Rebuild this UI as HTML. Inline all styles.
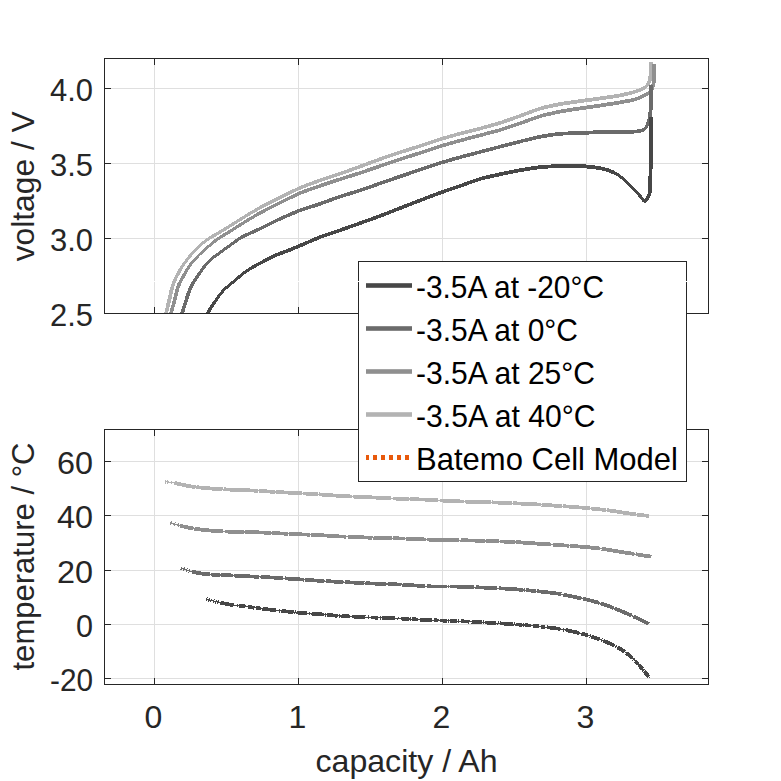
<!DOCTYPE html><html><head><meta charset="utf-8"><title>Discharge voltage and temperature</title><style>html,body{margin:0;padding:0;background:#fff;}svg{display:block;}</style></head><body>
<svg width="781" height="781" viewBox="0 0 781 781" font-family="'Liberation Sans', Arial, sans-serif">
<rect width="781" height="781" fill="#fff"/>
<defs><clipPath id="ct"><rect x="104" y="58" width="605" height="256"/></clipPath><clipPath id="cb"><rect x="104" y="429" width="605" height="256"/></clipPath></defs>
<g stroke="#dfdfdf" stroke-width="1" shape-rendering="crispEdges">
<line x1="154.5" y1="58" x2="154.5" y2="314"/>
<line x1="298.5" y1="58" x2="298.5" y2="314"/>
<line x1="442.5" y1="58" x2="442.5" y2="314"/>
<line x1="586.5" y1="58" x2="586.5" y2="314"/>
<line x1="104" y1="88.5" x2="709" y2="88.5"/>
<line x1="104" y1="163.5" x2="709" y2="163.5"/>
<line x1="104" y1="238.5" x2="709" y2="238.5"/>
</g>
<rect x="105" y="281" width="603" height="1" fill="#fff"/>
<g clip-path="url(#ct)" fill="none" stroke-width="3.8" stroke-linejoin="round" stroke-linecap="butt" shape-rendering="crispEdges">
<path stroke="#b3b3b3" stroke-width="3.60" d="M166.00,313.80 L166.47,311.85 L166.93,309.91 L167.39,307.96 L167.86,306.02 L168.32,304.07 L168.77,302.13"/>
<path stroke="#b3b3b3" stroke-width="3.80" d="M167.86,306.02 L168.32,304.07 L168.77,302.13 L169.22,300.18 L169.66,298.23 L170.09,296.27 L170.52,294.32 L170.96,292.37 L171.40,290.42 L171.89,288.49"/>
<path stroke="#b3b3b3" stroke-width="3.60" d="M170.96,292.37 L171.40,290.42 L171.89,288.49 L172.43,286.57 L173.05,284.68 L173.74,282.81 L174.50,280.97 L175.30,279.14"/>
<path stroke="#b3b3b3" stroke-width="3.40" d="M173.74,282.81 L174.50,280.97 L175.30,279.14 L176.15,277.33 L177.04,275.55 L177.97,273.78 L178.93,272.03 L179.92,270.29 L180.93,268.57"/>
<path stroke="#b3b3b3" stroke-width="3.20" d="M178.93,272.03 L179.92,270.29 L180.93,268.57 L181.96,266.86 L183.04,265.18 L184.16,263.54 L185.33,261.92"/>
<path stroke="#b3b3b3" stroke-width="3.00" d="M183.04,265.18 L184.16,263.54 L185.33,261.92 L186.54,260.33 L187.77,258.75 L189.02,257.19 L190.29,255.65 L191.58,254.12 L192.89,252.61"/>
<path stroke="#b3b3b3" stroke-width="2.80" d="M190.29,255.65 L191.58,254.12 L192.89,252.61 L194.22,251.13 L195.59,249.67 L196.99,248.25 L198.43,246.87 L199.90,245.52 L201.41,244.20 L202.94,242.92"/>
<path stroke="#b3b3b3" stroke-width="3.00" d="M199.90,245.52 L201.41,244.20 L202.94,242.92 L204.50,241.67 L206.09,240.47 L207.71,239.31 L209.38,238.22"/>
<path stroke="#b3b3b3" stroke-width="3.20" d="M206.09,240.47 L207.71,239.31 L209.38,238.22 L211.07,237.17 L212.80,236.18 L214.55,235.21"/>
<path stroke="#b3b3b3" stroke-width="3.40" d="M211.07,237.17 L212.80,236.18 L214.55,235.21 L216.29,234.23 L218.03,233.25 L219.75,232.23"/>
<path stroke="#b3b3b3" stroke-width="3.20" d="M216.29,234.23 L218.03,233.25 L219.75,232.23 L221.47,231.20 L223.17,230.16 L224.88,229.11 L226.58,228.06 L228.28,227.00 L229.97,225.95 L231.67,224.88 L233.36,223.81 L235.05,222.74 L236.74,221.67 L238.42,220.60 L240.11,219.53 L241.80,218.46 L243.50,217.40 L245.20,216.35 L246.90,215.30 L248.62,214.27 L250.34,213.25 L252.06,212.23 L253.78,211.22 L255.51,210.21 L257.24,209.21 L258.98,208.22"/>
<path stroke="#b3b3b3" stroke-width="3.40" d="M255.51,210.21 L257.24,209.21 L258.98,208.22 L260.73,207.27 L262.50,206.34 L264.29,205.44 L266.08,204.55 L267.87,203.67 L269.67,202.79 L271.46,201.90 L273.25,201.01 L275.04,200.11 L276.82,199.20 L278.60,198.28 L280.38,197.37 L282.16,196.47 L283.95,195.58 L285.74,194.69 L287.54,193.81 L289.33,192.93 L291.13,192.05 L292.92,191.17 L294.72,190.30 L296.53,189.44 L298.34,188.60 L300.17,187.80 L302.02,187.03"/>
<path stroke="#b3b3b3" stroke-width="3.60" d="M298.34,188.60 L300.17,187.80 L302.02,187.03 L303.88,186.30 L305.74,185.59 L307.62,184.89 L309.49,184.19 L311.37,183.50 L313.24,182.80 L315.12,182.11 L317.00,181.43 L318.88,180.76 L320.77,180.10 L322.67,179.46 L324.56,178.83 L326.46,178.20 L328.36,177.58 L330.27,176.96 L332.17,176.34 L334.07,175.72 L335.97,175.10 L337.87,174.47 L339.76,173.83 L341.65,173.18 L343.54,172.51 L345.42,171.84 L347.31,171.17 L349.19,170.49 L351.07,169.81 L352.95,169.14 L354.83,168.46 L356.71,167.78 L358.59,167.09 L360.47,166.40 L362.35,165.71 L364.22,165.01 L366.09,164.31 L367.97,163.61 L369.84,162.91 L371.71,162.21 L373.59,161.51 L375.46,160.81 L377.34,160.12 L379.22,159.44 L381.10,158.77 L382.99,158.12 L384.88,157.47 L386.78,156.83 L388.67,156.19 L390.57,155.56 L392.47,154.92 L394.36,154.29 L396.26,153.66 L398.16,153.03 L400.06,152.40 L401.96,151.78 L403.86,151.17 L405.77,150.56 L407.67,149.95 L409.58,149.34 L411.48,148.73 L413.39,148.12 L415.29,147.50 L417.19,146.89 L419.10,146.27 L421.00,145.65 L422.90,145.02 L424.79,144.39 L426.69,143.76 L428.59,143.12 L430.48,142.49 L432.38,141.85 L434.28,141.22 L436.18,140.59 L438.08,139.98 L439.99,139.37 L441.90,138.78 L443.81,138.21 L445.73,137.64 L447.65,137.08 L449.57,136.53 L451.49,135.97 L453.41,135.41 L455.34,134.86 L457.26,134.32 L459.19,133.79 L461.12,133.27 L463.06,132.77 L464.99,132.28 L466.94,131.80 L468.88,131.33 L470.82,130.85 L472.76,130.37 L474.70,129.89 L476.64,129.41 L478.58,128.91 L480.52,128.41 L482.45,127.89 L484.38,127.37 L486.31,126.83 L488.23,126.29 L490.16,125.76 L492.08,125.21 L494.01,124.67 L495.93,124.12 L497.85,123.55 L499.76,122.97 L501.66,122.36 L503.56,121.73 L505.45,121.08 L507.34,120.43 L509.23,119.77 L511.12,119.11 L513.01,118.45 L514.89,117.78 L516.78,117.12 L518.66,116.44 L520.54,115.76 L522.42,115.06 L524.29,114.36 L526.16,113.66 L528.03,112.95 L529.90,112.24 L531.77,111.53 L533.64,110.83 L535.52,110.14 L537.40,109.48 L539.30,108.86 L541.21,108.29 L543.14,107.78 L545.08,107.31 L547.03,106.86"/>
<path stroke="#b3b3b3" stroke-width="3.80" d="M543.14,107.78 L545.08,107.31 L547.03,106.86 L548.98,106.43 L550.93,106.00 L552.89,105.57 L554.84,105.15 L556.80,104.74 L558.76,104.35 L560.73,103.99 L562.70,103.65 L564.67,103.34 L566.65,103.04 L568.63,102.75 L570.61,102.46 L572.58,102.18 L574.56,101.89 L576.54,101.61 L578.52,101.33 L580.51,101.05 L582.49,100.79 L584.47,100.52 L586.45,100.26 L588.44,100.00 L590.42,99.75 L592.40,99.49 L594.39,99.23 L596.37,98.97 L598.35,98.70 L600.33,98.43 L602.31,98.15 L604.29,97.87 L606.27,97.59 L608.25,97.30 L610.23,97.02 L612.21,96.73 L614.19,96.43 L616.16,96.12 L618.13,95.78 L620.09,95.41 L622.05,95.00 L624.00,94.55 L625.94,94.07"/>
<path stroke="#b3b3b3" stroke-width="3.60" d="M622.05,95.00 L624.00,94.55 L625.94,94.07 L627.88,93.59 L629.81,93.09 L631.75,92.60 L633.68,92.08 L635.60,91.54 L637.49,90.94 L639.32,90.26 L641.07,89.50"/>
<path stroke="#b3b3b3" stroke-width="3.40" d="M637.49,90.94 L639.32,90.26 L641.07,89.50 L642.68,88.70 L644.08,87.93 L645.21,87.27"/>
<path stroke="#b3b3b3" stroke-width="3.20" d="M642.68,88.70 L644.08,87.93 L645.21,87.27 L645.67,87.00 L645.94,86.66"/>
<path stroke="#b3b3b3" stroke-width="3.00" d="M645.21,87.27 L645.67,87.00 L645.94,86.66 L646.31,86.21 L646.76,85.67 L647.25,85.06 L647.75,84.42 L648.23,83.77 L648.66,83.12"/>
<path stroke="#b3b3b3" stroke-width="3.20" d="M647.75,84.42 L648.23,83.77 L648.66,83.12 L649.00,82.50"/>
<path stroke="#b3b3b3" stroke-width="3.40" d="M648.23,83.77 L648.66,83.12 L649.00,82.50 L649.27,81.92 L649.49,81.34"/>
<path stroke="#b3b3b3" stroke-width="3.60" d="M649.00,82.50 L649.27,81.92 L649.49,81.34 L649.67,80.77 L649.83,80.19 L649.96,79.58"/>
<path stroke="#b3b3b3" stroke-width="3.80" d="M649.67,80.77 L649.83,80.19 L649.96,79.58 L650.08,78.94 L650.19,78.25 L650.30,77.50 L650.40,76.69 L650.49,75.81 L650.56,74.89 L650.62,73.94 L650.68,72.96 L650.72,71.97 L650.76,70.98 L650.80,70.00 L650.83,68.97 L650.86,67.85 L650.87,66.69 L650.88,65.53 L650.89,64.44 L650.89,63.45 L650.90,62.62 L650.90,62.00"/>
<path stroke="#8f8f8f" stroke-width="3.60" d="M170.90,313.80 L171.42,311.87 L171.94,309.94 L172.45,308.00 L172.97,306.07 L173.48,304.14 L173.99,302.21 L174.49,300.27 L174.98,298.33 L175.47,296.39 L175.95,294.45 L176.44,292.51 L176.94,290.58 L177.49,288.67 L178.11,286.78 L178.82,284.93 L179.63,283.12"/>
<path stroke="#8f8f8f" stroke-width="3.40" d="M178.11,286.78 L178.82,284.93 L179.63,283.12 L180.51,281.33 L181.44,279.57 L182.40,277.82 L183.38,276.07 L184.38,274.34"/>
<path stroke="#8f8f8f" stroke-width="3.20" d="M182.40,277.82 L183.38,276.07 L184.38,274.34 L185.38,272.61 L186.40,270.89 L187.44,269.18 L188.51,267.50 L189.62,265.85 L190.79,264.24"/>
<path stroke="#8f8f8f" stroke-width="3.00" d="M188.51,267.50 L189.62,265.85 L190.79,264.24 L192.02,262.67 L193.30,261.14 L194.62,259.64"/>
<path stroke="#8f8f8f" stroke-width="2.80" d="M192.02,262.67 L193.30,261.14 L194.62,259.64 L195.97,258.17 L197.34,256.71 L198.73,255.28 L200.15,253.87"/>
<path stroke="#8f8f8f" stroke-width="2.60" d="M197.34,256.71 L198.73,255.28 L200.15,253.87 L201.60,252.50"/>
<path stroke="#8f8f8f" stroke-width="2.80" d="M198.73,255.28 L200.15,253.87 L201.60,252.50 L203.08,251.15 L204.58,249.84 L206.10,248.53 L207.62,247.24 L209.15,245.94 L210.67,244.65 L212.20,243.36"/>
<path stroke="#8f8f8f" stroke-width="3.00" d="M209.15,245.94 L210.67,244.65 L212.20,243.36 L213.73,242.08 L215.29,240.83 L216.87,239.62 L218.50,238.48"/>
<path stroke="#8f8f8f" stroke-width="3.20" d="M215.29,240.83 L216.87,239.62 L218.50,238.48 L220.17,237.39 L221.87,236.34 L223.58,235.32 L225.30,234.30 L227.02,233.28 L228.73,232.23 L230.42,231.18 L232.11,230.10 L233.78,229.00 L235.45,227.91 L237.12,226.81 L238.80,225.72 L240.49,224.65 L242.18,223.59 L243.88,222.53 L245.59,221.49 L247.30,220.46 L249.02,219.43 L250.74,218.41 L252.46,217.39 L254.18,216.38 L255.91,215.37 L257.64,214.36 L259.38,213.38"/>
<path stroke="#8f8f8f" stroke-width="3.40" d="M255.91,215.37 L257.64,214.36 L259.38,213.38 L261.13,212.41 L262.89,211.46 L264.66,210.53 L266.43,209.61 L268.21,208.69 L269.99,207.78 L271.77,206.87 L273.55,205.97 L275.34,205.08 L277.14,204.19 L278.93,203.31 L280.73,202.43 L282.52,201.54 L284.32,200.66 L286.11,199.78 L287.90,198.89 L289.69,198.00 L291.49,197.12 L293.28,196.23 L295.08,195.36 L296.88,194.50 L298.70,193.67 L300.54,192.89 L302.39,192.15"/>
<path stroke="#8f8f8f" stroke-width="3.60" d="M298.70,193.67 L300.54,192.89 L302.39,192.15 L304.26,191.44 L306.14,190.76 L308.02,190.09 L309.91,189.43 L311.80,188.77 L313.69,188.11 L315.58,187.45 L317.46,186.80 L319.36,186.14 L321.25,185.50 L323.14,184.85 L325.04,184.22 L326.93,183.58 L328.83,182.94 L330.73,182.31 L332.62,181.67 L334.52,181.04 L336.42,180.41 L338.32,179.78 L340.22,179.17 L342.12,178.56 L344.03,177.96 L345.94,177.36 L347.85,176.77 L349.76,176.17 L351.67,175.58 L353.58,174.99 L355.49,174.39 L357.40,173.79 L359.30,173.18 L361.20,172.55 L363.10,171.92 L364.99,171.27 L366.88,170.62 L368.77,169.97 L370.66,169.32 L372.55,168.67 L374.44,168.02 L376.33,167.36 L378.23,166.71 L380.12,166.06 L382.01,165.41 L383.90,164.76 L385.79,164.10 L387.68,163.45 L389.57,162.80 L391.46,162.15 L393.35,161.50 L395.24,160.85 L397.14,160.20 L399.03,159.57 L400.93,158.95 L402.84,158.34 L404.75,157.74 L406.65,157.14 L408.56,156.55 L410.47,155.95 L412.38,155.36 L414.29,154.77 L416.20,154.17 L418.11,153.57 L420.01,152.96 L421.92,152.34 L423.82,151.71 L425.71,151.08 L427.61,150.45 L429.51,149.81 L431.40,149.18 L433.30,148.55 L435.20,147.92 L437.10,147.30 L439.00,146.69 L440.91,146.09 L442.83,145.52 L444.75,144.96 L446.67,144.40 L448.59,143.85 L450.52,143.30 L452.44,142.76 L454.36,142.21 L456.29,141.66 L458.21,141.13 L460.14,140.59 L462.07,140.07 L464.00,139.55 L465.93,139.03 L467.87,138.52 L469.80,138.00 L471.73,137.49 L473.67,136.98 L475.60,136.47 L477.53,135.96 L479.47,135.45 L481.40,134.94 L483.34,134.43 L485.27,133.93 L487.21,133.43 L489.14,132.92 L491.08,132.42 L493.01,131.91 L494.95,131.40 L496.88,130.88 L498.80,130.34 L500.72,129.77 L502.63,129.18 L504.53,128.57 L506.43,127.94 L508.33,127.31 L510.22,126.67 L512.12,126.04 L514.02,125.40 L515.91,124.76 L517.80,124.12 L519.69,123.46 L521.58,122.80 L523.46,122.12 L525.34,121.45 L527.22,120.76 L529.10,120.08 L530.98,119.39 L532.86,118.71 L534.74,118.04 L536.63,117.38 L538.53,116.76 L540.44,116.18 L542.36,115.64 L544.30,115.15 L546.24,114.68 L548.19,114.22 L550.14,113.77"/>
<path stroke="#8f8f8f" stroke-width="3.80" d="M546.24,114.68 L548.19,114.22 L550.14,113.77 L552.08,113.32 L554.03,112.88 L555.99,112.45 L557.94,112.03 L559.90,111.64 L561.87,111.27 L563.84,110.93 L565.81,110.61 L567.79,110.30 L569.76,109.99 L571.74,109.68 L573.71,109.38 L575.69,109.07 L577.67,108.77 L579.65,108.48 L581.63,108.19 L583.60,107.90 L585.58,107.62 L587.57,107.34 L589.55,107.06 L591.53,106.79 L593.51,106.51 L595.49,106.23 L597.47,105.94 L599.45,105.65 L601.42,105.35 L603.40,105.05 L605.38,104.74 L607.35,104.42 L609.33,104.11 L611.30,103.79 L613.27,103.47 L615.25,103.16 L617.22,102.83 L619.20,102.50 L621.17,102.17 L623.14,101.82 L625.11,101.47 L627.07,101.11 L629.04,100.74 L630.99,100.35 L632.93,99.91 L634.84,99.39"/>
<path stroke="#8f8f8f" stroke-width="3.60" d="M630.99,100.35 L632.93,99.91 L634.84,99.39 L636.70,98.78 L638.49,98.08 L640.17,97.35"/>
<path stroke="#8f8f8f" stroke-width="3.40" d="M636.70,98.78 L638.49,98.08 L640.17,97.35 L641.66,96.65 L642.90,96.04 L643.43,95.78 L643.85,95.55 L644.43,95.24 L645.13,94.88 L645.89,94.47 L646.67,94.04 L647.43,93.60 L648.12,93.18"/>
<path stroke="#8f8f8f" stroke-width="3.20" d="M646.67,94.04 L647.43,93.60 L648.12,93.18 L648.70,92.80 L649.18,92.45"/>
<path stroke="#8f8f8f" stroke-width="3.00" d="M648.12,93.18 L648.70,92.80 L649.18,92.45 L649.60,92.12 L649.99,91.79"/>
<path stroke="#8f8f8f" stroke-width="2.80" d="M649.18,92.45 L649.60,92.12 L649.99,91.79 L650.34,91.46 L650.65,91.13 L650.95,90.78"/>
<path stroke="#8f8f8f" stroke-width="3.00" d="M650.34,91.46 L650.65,91.13 L650.95,90.78 L651.23,90.41 L651.50,90.00"/>
<path stroke="#8f8f8f" stroke-width="3.20" d="M650.95,90.78 L651.23,90.41 L651.50,90.00 L651.75,89.57 L651.98,89.12"/>
<path stroke="#8f8f8f" stroke-width="3.40" d="M651.50,90.00 L651.75,89.57 L651.98,89.12 L652.19,88.65 L652.38,88.16"/>
<path stroke="#8f8f8f" stroke-width="3.60" d="M651.98,89.12 L652.19,88.65 L652.38,88.16 L652.55,87.66 L652.70,87.13 L652.85,86.58 L653.00,86.00 L653.14,85.41"/>
<path stroke="#8f8f8f" stroke-width="3.80" d="M652.85,86.58 L653.00,86.00 L653.14,85.41 L653.26,84.82 L653.37,84.22 L653.47,83.59 L653.56,82.92 L653.64,82.21 L653.72,81.44 L653.80,80.60 L653.87,79.67 L653.94,78.66 L653.99,77.57 L654.04,76.45 L654.09,75.31 L654.13,74.17 L654.17,73.06 L654.20,72.00 L654.23,70.93 L654.25,69.81 L654.26,68.67 L654.27,67.56 L654.28,66.52 L654.29,65.58 L654.29,64.80 L654.30,64.20"/>
<path stroke="#6b6b6b" stroke-width="3.60" d="M182.00,313.80 L182.58,311.89 L183.16,309.97 L183.75,308.06 L184.33,306.15 L184.92,304.24 L185.51,302.33 L186.12,300.42 L186.74,298.52 L187.36,296.62 L188.00,294.72 L188.65,292.83 L189.32,290.95 L190.02,289.09 L190.79,287.26 L191.64,285.47"/>
<path stroke="#6b6b6b" stroke-width="3.40" d="M190.02,289.09 L190.79,287.26 L191.64,285.47 L192.59,283.72 L193.61,282.02"/>
<path stroke="#6b6b6b" stroke-width="3.20" d="M191.64,285.47 L192.59,283.72 L193.61,282.02 L194.69,280.34 L195.80,278.68 L196.93,277.03 L198.07,275.39 L199.22,273.75 L200.38,272.12 L201.53,270.49 L202.68,268.86 L203.85,267.23"/>
<path stroke="#6b6b6b" stroke-width="3.00" d="M201.53,270.49 L202.68,268.86 L203.85,267.23 L205.04,265.63 L206.27,264.07 L207.57,262.57"/>
<path stroke="#6b6b6b" stroke-width="2.80" d="M205.04,265.63 L206.27,264.07 L207.57,262.57 L208.95,261.14 L210.40,259.81 L211.93,258.55"/>
<path stroke="#6b6b6b" stroke-width="3.00" d="M208.95,261.14 L210.40,259.81 L211.93,258.55 L213.52,257.34 L215.12,256.16 L216.74,254.98 L218.34,253.79 L219.95,252.60 L221.55,251.41 L223.17,250.23 L224.79,249.06 L226.42,247.90 L228.04,246.73 L229.67,245.57 L231.29,244.40 L232.90,243.21 L234.50,242.02 L236.11,240.84 L237.74,239.69"/>
<path stroke="#6b6b6b" stroke-width="3.20" d="M234.50,242.02 L236.11,240.84 L237.74,239.69 L239.40,238.60 L241.11,237.58 L242.86,236.64"/>
<path stroke="#6b6b6b" stroke-width="3.40" d="M239.40,238.60 L241.11,237.58 L242.86,236.64 L244.65,235.76 L246.46,234.91 L248.27,234.08 L250.10,233.26 L251.92,232.44 L253.74,231.61 L255.56,230.79 L257.38,229.95 L259.19,229.11 L261.00,228.25 L262.80,227.38 L264.59,226.49 L266.38,225.61 L268.17,224.71 L269.96,223.82 L271.75,222.92 L273.54,222.03 L275.33,221.14 L277.13,220.27 L278.93,219.40 L280.75,218.56 L282.57,217.73 L284.40,216.92 L286.23,216.13 L288.07,215.33 L289.90,214.54 L291.74,213.75 L293.58,212.97 L295.42,212.19"/>
<path stroke="#6b6b6b" stroke-width="3.60" d="M291.74,213.75 L293.58,212.97 L295.42,212.19 L297.27,211.43 L299.13,210.70 L301.00,210.00 L302.89,209.35 L304.78,208.71 L306.69,208.10 L308.59,207.50 L310.50,206.89 L312.41,206.29 L314.31,205.69 L316.22,205.07 L318.12,204.45 L320.01,203.81 L321.90,203.16 L323.78,202.48 L325.66,201.80 L327.54,201.11 L329.42,200.42 L331.29,199.72 L333.17,199.03 L335.05,198.34 L336.93,197.67 L338.81,197.01 L340.71,196.37 L342.61,195.76 L344.52,195.16 L346.43,194.58 L348.35,194.00 L350.26,193.42 L352.18,192.85 L354.09,192.27 L356.00,191.68 L357.91,191.09 L359.82,190.48 L361.71,189.85 L363.61,189.20 L365.50,188.54 L367.38,187.88 L369.27,187.21 L371.15,186.54 L373.04,185.87 L374.92,185.20 L376.81,184.54 L378.69,183.87 L380.58,183.21 L382.47,182.55 L384.36,181.90 L386.25,181.24 L388.14,180.59 L390.03,179.94 L391.92,179.29 L393.81,178.64 L395.70,177.98 L397.59,177.33 L399.49,176.68 L401.38,176.04 L403.27,175.39 L405.16,174.75 L407.06,174.10 L408.95,173.46 L410.84,172.81 L412.74,172.17 L414.63,171.53 L416.53,170.88 L418.42,170.24 L420.31,169.60 L422.21,168.96 L424.11,168.33 L426.00,167.69 L427.90,167.05 L429.79,166.42 L431.69,165.78 L433.59,165.15 L435.49,164.52 L437.39,163.90 L439.29,163.29 L441.20,162.70 L443.11,162.12 L445.03,161.55 L446.95,160.99 L448.87,160.43 L450.79,159.87 L452.71,159.31 L454.64,158.76 L456.56,158.21 L458.48,157.67 L460.41,157.13 L462.34,156.61 L464.27,156.10 L466.21,155.59 L468.14,155.08 L470.08,154.58 L472.01,154.08 L473.95,153.57 L475.88,153.07 L477.82,152.56 L479.75,152.06 L481.69,151.55 L483.62,151.04 L485.56,150.53 L487.49,150.02 L489.42,149.50 L491.36,148.99 L493.29,148.48 L495.22,147.97 L497.16,147.46 L499.09,146.95 L501.02,146.44 L502.96,145.93 L504.90,145.43 L506.83,144.92 L508.77,144.42 L510.70,143.92 L512.64,143.41 L514.57,142.91 L516.51,142.41 L518.45,141.92 L520.39,141.43 L522.33,140.94 L524.27,140.46 L526.21,139.98 L528.15,139.50 L530.09,139.03 L532.04,138.55 L533.98,138.08 L535.93,137.63 L537.88,137.19"/>
<path stroke="#6b6b6b" stroke-width="3.80" d="M533.98,138.08 L535.93,137.63 L537.88,137.19 L539.83,136.78 L541.80,136.41 L543.77,136.07 L545.74,135.75 L547.72,135.45 L549.69,135.15 L551.67,134.85 L553.65,134.56 L555.63,134.29 L557.61,134.04 L559.60,133.83 L561.59,133.68 L563.58,133.56 L565.58,133.48 L567.58,133.42 L569.57,133.36 L571.57,133.31 L573.57,133.26 L575.57,133.20 L577.57,133.14 L579.57,133.07 L581.57,132.99 L583.57,132.89 L585.56,132.79 L587.56,132.68 L589.56,132.57 L591.55,132.47 L593.55,132.36 L595.55,132.26 L597.55,132.17 L599.54,132.10 L601.54,132.05 L603.54,132.02 L605.54,132.01 L607.54,132.00 L609.54,132.00 L611.54,132.00 L613.54,132.00 L615.54,131.99 L617.54,131.99 L619.54,131.97 L621.54,131.94 L623.54,131.91 L625.54,131.87 L627.54,131.83 L629.54,131.78 L631.53,131.73 L633.50,131.65 L635.42,131.55 L637.20,131.40 L638.75,131.23 L639.97,131.06 L640.44,130.99 L640.74,130.87"/>
<path stroke="#6b6b6b" stroke-width="3.60" d="M639.97,131.06 L640.44,130.99 L640.74,130.87 L641.15,130.72 L641.63,130.55 L642.16,130.35 L642.71,130.13 L643.25,129.87"/>
<path stroke="#6b6b6b" stroke-width="3.40" d="M642.16,130.35 L642.71,130.13 L643.25,129.87 L643.76,129.60 L644.20,129.30"/>
<path stroke="#6b6b6b" stroke-width="3.20" d="M643.25,129.87 L643.76,129.60 L644.20,129.30 L644.59,128.97"/>
<path stroke="#6b6b6b" stroke-width="2.80" d="M643.76,129.60 L644.20,129.30 L644.59,128.97 L644.95,128.62 L645.29,128.23 L645.62,127.83"/>
<path stroke="#6b6b6b" stroke-width="3.00" d="M644.95,128.62 L645.29,128.23 L645.62,127.83 L645.93,127.40 L646.23,126.95"/>
<path stroke="#6b6b6b" stroke-width="3.20" d="M645.62,127.83 L645.93,127.40 L646.23,126.95 L646.52,126.48 L646.80,126.00 L647.07,125.50"/>
<path stroke="#6b6b6b" stroke-width="3.40" d="M646.52,126.48 L646.80,126.00 L647.07,125.50 L647.32,124.97 L647.56,124.42 L647.78,123.86"/>
<path stroke="#6b6b6b" stroke-width="3.60" d="M647.32,124.97 L647.56,124.42 L647.78,123.86 L648.00,123.28 L648.20,122.69 L648.40,122.09 L648.60,121.50 L648.79,120.91 L648.97,120.32 L649.15,119.73 L649.32,119.12 L649.48,118.51 L649.63,117.87 L649.77,117.20"/>
<path stroke="#6b6b6b" stroke-width="3.80" d="M649.48,118.51 L649.63,117.87 L649.77,117.20 L649.90,116.50 L650.02,115.78 L650.13,115.06 L650.22,114.33 L650.31,113.56 L650.39,112.76 L650.47,111.91 L650.54,110.99 L650.60,110.00 L650.66,108.95 L650.71,107.87 L650.75,106.74 L650.79,105.55 L650.82,104.29 L650.85,102.95 L650.87,101.53 L650.90,100.00 L650.92,98.24 L650.94,96.19 L650.96,93.98 L650.97,91.73 L650.98,89.55 L650.99,87.57 L650.99,85.92 L651.00,84.70"/>
<path stroke="#474747" stroke-width="3.40" d="M207.75,313.82 L208.56,312.01 L209.44,310.22 L210.40,308.49 L211.43,306.79"/>
<path stroke="#474747" stroke-width="3.20" d="M209.44,310.22 L210.40,308.49 L211.43,306.79 L212.53,305.13 L213.66,303.48 L214.81,301.85 L215.97,300.21 L217.13,298.58"/>
<path stroke="#474747" stroke-width="3.00" d="M214.81,301.85 L215.97,300.21 L217.13,298.58 L218.29,296.96 L219.47,295.35 L220.68,293.76 L221.93,292.21 L223.25,290.72"/>
<path stroke="#474747" stroke-width="2.80" d="M220.68,293.76 L221.93,292.21 L223.25,290.72 L224.63,289.29 L226.07,287.92 L227.57,286.61 L229.11,285.33"/>
<path stroke="#474747" stroke-width="3.00" d="M226.07,287.92 L227.57,286.61 L229.11,285.33 L230.66,284.07 L232.21,282.81 L233.75,281.54 L235.28,280.25"/>
<path stroke="#474747" stroke-width="2.80" d="M232.21,282.81 L233.75,281.54 L235.28,280.25 L236.78,278.94 L238.28,277.61 L239.79,276.30 L241.31,275.02"/>
<path stroke="#474747" stroke-width="3.00" d="M238.28,277.61 L239.79,276.30 L241.31,275.02 L242.87,273.77 L244.47,272.57 L246.09,271.40 L247.74,270.28"/>
<path stroke="#474747" stroke-width="3.20" d="M244.47,272.57 L246.09,271.40 L247.74,270.28 L249.41,269.19 L251.11,268.14 L252.83,267.12 L254.57,266.14"/>
<path stroke="#474747" stroke-width="3.40" d="M251.11,268.14 L252.83,267.12 L254.57,266.14 L256.32,265.17 L258.08,264.23 L259.85,263.30 L261.63,262.38 L263.40,261.45 L265.17,260.52 L266.93,259.58 L268.71,258.65 L270.48,257.74 L272.28,256.86 L274.08,256.01 L275.91,255.20 L277.75,254.43"/>
<path stroke="#474747" stroke-width="3.60" d="M274.08,256.01 L275.91,255.20 L277.75,254.43 L279.61,253.70 L281.49,253.02 L283.37,252.34 L285.24,251.66 L287.11,250.96 L288.97,250.23 L290.83,249.48 L292.68,248.72 L294.53,247.96 L296.37,247.19 L298.22,246.42 L300.06,245.64 L301.90,244.86"/>
<path stroke="#474747" stroke-width="3.40" d="M298.22,246.42 L300.06,245.64 L301.90,244.86 L303.74,244.07 L305.57,243.27 L307.41,242.48 L309.24,241.68 L311.08,240.88 L312.91,240.09 L314.75,239.30 L316.59,238.52"/>
<path stroke="#474747" stroke-width="3.60" d="M312.91,240.09 L314.75,239.30 L316.59,238.52 L318.44,237.76 L320.30,237.03 L322.17,236.34 L324.06,235.67 L325.95,235.02 L327.84,234.38 L329.74,233.74 L331.63,233.10 L333.53,232.47 L335.42,231.83 L337.32,231.19 L339.21,230.54 L341.10,229.89 L342.99,229.23 L344.88,228.57 L346.76,227.90 L348.65,227.23 L350.53,226.56 L352.42,225.89 L354.30,225.22 L356.19,224.55 L358.07,223.88 L359.95,223.21 L361.84,222.54 L363.72,221.86 L365.60,221.18 L367.48,220.51 L369.36,219.83 L371.25,219.15 L373.13,218.47 L375.01,217.79 L376.89,217.11 L378.76,216.42 L380.64,215.72 L382.51,215.01 L384.37,214.29 L386.24,213.56 L388.10,212.84 L389.97,212.11 L391.83,211.39 L393.69,210.66 L395.56,209.93 L397.42,209.21 L399.28,208.48 L401.15,207.75 L403.01,207.03 L404.87,206.30 L406.74,205.57 L408.60,204.85 L410.46,204.12 L412.33,203.39 L414.19,202.67 L416.05,201.94 L417.92,201.22 L419.78,200.50 L421.65,199.78 L423.52,199.07 L425.39,198.35 L427.26,197.64 L429.13,196.93 L431.00,196.22 L432.86,195.51 L434.74,194.81 L436.61,194.10 L438.48,193.41 L440.36,192.73 L442.25,192.06 L444.14,191.40 L446.03,190.75 L447.92,190.11 L449.81,189.46 L451.71,188.82 L453.60,188.17 L455.49,187.53 L457.39,186.88 L459.28,186.22 L461.16,185.56 L463.05,184.89 L464.93,184.22 L466.81,183.55 L468.70,182.87 L470.58,182.19 L472.46,181.52 L474.35,180.85 L476.23,180.20 L478.13,179.57 L480.04,178.99 L481.96,178.45 L483.90,177.94 L485.84,177.47 L487.78,177.01 L489.73,176.56"/>
<path stroke="#474747" stroke-width="3.80" d="M485.84,177.47 L487.78,177.01 L489.73,176.56 L491.68,176.11 L493.63,175.67 L495.58,175.22 L497.53,174.79 L499.49,174.36 L501.44,173.94 L503.40,173.53 L505.36,173.13 L507.32,172.74 L509.28,172.34 L511.24,171.95 L513.20,171.56 L515.16,171.18 L517.13,170.80 L519.09,170.43 L521.06,170.08 L523.04,169.75 L525.01,169.43 L526.98,169.12 L528.96,168.81 L530.94,168.51 L532.91,168.20 L534.89,167.91 L536.87,167.63 L538.85,167.38 L540.84,167.16 L542.83,166.98 L544.82,166.83 L546.82,166.70 L548.81,166.57 L550.81,166.45 L552.81,166.33 L554.80,166.22 L556.80,166.12 L558.80,166.03 L560.79,165.96 L562.79,165.92 L564.79,165.89 L566.79,165.87 L568.79,165.86 L570.79,165.85 L572.79,165.84 L574.79,165.85 L576.79,165.87 L578.79,165.92 L580.78,166.02 L582.77,166.15 L584.76,166.33 L586.75,166.52 L588.74,166.72 L590.73,166.93 L592.72,167.14 L594.71,167.37 L596.69,167.62 L598.66,167.92 L600.62,168.27 L602.57,168.69 L604.51,169.16"/>
<path stroke="#474747" stroke-width="3.60" d="M600.62,168.27 L602.57,168.69 L604.51,169.16 L606.43,169.70 L608.32,170.30 L610.17,170.99 L611.97,171.75 L613.67,172.54"/>
<path stroke="#474747" stroke-width="3.40" d="M610.17,170.99 L611.97,171.75 L613.67,172.54 L615.22,173.32 L616.54,174.01 L617.57,174.56 L618.20,175.03"/>
<path stroke="#474747" stroke-width="3.00" d="M616.54,174.01 L617.57,174.56 L618.20,175.03 L619.03,175.66 L620.03,176.40 L621.14,177.23 L622.30,178.11 L623.46,179.03 L624.58,179.93 L625.60,180.80"/>
<path stroke="#474747" stroke-width="2.80" d="M623.46,179.03 L624.58,179.93 L625.60,180.80 L626.55,181.66 L627.48,182.54 L628.41,183.45 L629.32,184.37"/>
<path stroke="#474747" stroke-width="2.60" d="M627.48,182.54 L628.41,183.45 L629.32,184.37 L630.22,185.29"/>
<path stroke="#474747" stroke-width="2.80" d="M628.41,183.45 L629.32,184.37 L630.22,185.29 L631.10,186.21 L631.96,187.12 L632.80,188.00 L633.62,188.87 L634.41,189.72 L635.19,190.58 L635.94,191.42 L636.69,192.25 L637.43,193.08 L638.16,193.89 L638.90,194.70 L639.65,195.56 L640.40,196.51"/>
<path stroke="#474747" stroke-width="3.00" d="M638.90,194.70 L639.65,195.56 L640.40,196.51 L641.16,197.48 L641.91,198.42 L642.63,199.29 L643.33,200.01"/>
<path stroke="#474747" stroke-width="2.80" d="M641.91,198.42 L642.63,199.29 L643.33,200.01 L643.99,200.53"/>
<path stroke="#474747" stroke-width="3.00" d="M642.63,199.29 L643.33,200.01 L643.99,200.53 L644.60,200.80"/>
<path stroke="#474747" stroke-width="3.40" d="M643.33,200.01 L643.99,200.53 L644.60,200.80 L645.16,200.79"/>
<path stroke="#474747" stroke-width="3.80" d="M643.99,200.53 L644.60,200.80 L645.16,200.79 L645.69,200.54"/>
<path stroke="#474747" stroke-width="3.40" d="M644.60,200.80 L645.16,200.79 L645.69,200.54 L646.18,200.10"/>
<path stroke="#474747" stroke-width="2.80" d="M645.16,200.79 L645.69,200.54 L646.18,200.10 L646.64,199.51"/>
<path stroke="#474747" stroke-width="3.00" d="M645.69,200.54 L646.18,200.10 L646.64,199.51 L647.07,198.83"/>
<path stroke="#474747" stroke-width="3.20" d="M646.18,200.10 L646.64,199.51 L647.07,198.83 L647.48,198.10"/>
<path stroke="#474747" stroke-width="3.40" d="M646.64,199.51 L647.07,198.83 L647.48,198.10 L647.85,197.38 L648.20,196.70 L648.52,196.09 L648.81,195.51 L649.07,194.92 L649.30,194.29"/>
<path stroke="#474747" stroke-width="3.60" d="M648.81,195.51 L649.07,194.92 L649.30,194.29 L649.51,193.58 L649.69,192.76"/>
<path stroke="#474747" stroke-width="3.80" d="M649.30,194.29 L649.51,193.58 L649.69,192.76 L649.85,191.77 L650.00,190.60 L650.12,189.24 L650.20,187.73 L650.25,186.08 L650.28,184.30 L650.30,182.41 L650.33,180.42 L650.35,178.35 L650.40,176.20 L650.46,174.00 L650.53,171.74 L650.60,169.41 L650.67,166.97 L650.74,164.40 L650.80,161.69 L650.86,158.79 L650.90,155.70 L650.93,152.20 L650.96,148.22 L650.97,143.96 L650.98,139.60 L650.99,135.33 L650.99,131.35 L651.00,127.84 L651.00,125.00 L651.00,122.82 L651.01,121.11 L651.01,119.81 L651.01,118.83 L651.00,118.09 L651.00,117.51 L651.00,117.00 L651.00,116.50"/>
</g>
<g stroke="#262626" stroke-width="1" shape-rendering="crispEdges" fill="none">
<rect x="104.5" y="58.5" width="604" height="255"/>
<line x1="154.5" y1="58" x2="154.5" y2="65"/>
<line x1="154.5" y1="314" x2="154.5" y2="307"/>
<line x1="298.5" y1="58" x2="298.5" y2="65"/>
<line x1="298.5" y1="314" x2="298.5" y2="307"/>
<line x1="442.5" y1="58" x2="442.5" y2="65"/>
<line x1="442.5" y1="314" x2="442.5" y2="307"/>
<line x1="586.5" y1="58" x2="586.5" y2="65"/>
<line x1="586.5" y1="314" x2="586.5" y2="307"/>
<line x1="104" y1="88.5" x2="111" y2="88.5"/>
<line x1="709" y1="88.5" x2="702" y2="88.5"/>
<line x1="104" y1="163.5" x2="111" y2="163.5"/>
<line x1="709" y1="163.5" x2="702" y2="163.5"/>
<line x1="104" y1="238.5" x2="111" y2="238.5"/>
<line x1="709" y1="238.5" x2="702" y2="238.5"/>
</g>
<g fill="#262626" font-size="32" text-anchor="end">
<text x="93" y="101" textLength="43" lengthAdjust="spacingAndGlyphs">4.0</text>
<text x="93" y="176" textLength="43" lengthAdjust="spacingAndGlyphs">3.5</text>
<text x="93" y="251" textLength="43" lengthAdjust="spacingAndGlyphs">3.0</text>
<text x="93" y="326" textLength="43" lengthAdjust="spacingAndGlyphs">2.5</text>
</g>
<g stroke="#dfdfdf" stroke-width="1" shape-rendering="crispEdges">
<line x1="154.5" y1="429" x2="154.5" y2="685"/>
<line x1="298.5" y1="429" x2="298.5" y2="685"/>
<line x1="442.5" y1="429" x2="442.5" y2="685"/>
<line x1="586.5" y1="429" x2="586.5" y2="685"/>
<line x1="104" y1="461.5" x2="709" y2="461.5"/>
<line x1="104" y1="515.5" x2="709" y2="515.5"/>
<line x1="104" y1="570.5" x2="709" y2="570.5"/>
<line x1="104" y1="624.5" x2="709" y2="624.5"/>
<line x1="104" y1="678.5" x2="709" y2="678.5"/>
</g>
<g clip-path="url(#cb)" fill="none" stroke-width="3.8" stroke-linejoin="round" stroke-linecap="butt" shape-rendering="crispEdges">
<path stroke="#b3b3b3" stroke-width="1.2" d="M164.50,481.61 L166.49,481.82 L168.47,482.05 L170.45,482.31 L172.43,482.62 L174.39,482.97 L176.35,483.35 L178.31,483.77 L180.26,484.20 L182.21,484.65 L184.16,485.08 L186.11,485.50 L188.07,485.89 L190.04,486.24 L192.01,486.56 L193.99,486.85 L195.97,487.10 L197.96,487.33 L199.95,487.54 L201.94,487.73 L203.93,487.92 L205.92,488.09 L207.91,488.27 L209.91,488.44 L211.90,488.60 L213.89,488.74 L215.89,488.88 L217.89,488.99 L219.88,489.10 L221.88,489.20 L223.88,489.31 L225.88,489.40 L227.87,489.50 L229.87,489.59 L231.87,489.67 L233.87,489.74 L235.87,489.80 L237.87,489.87 L239.86,489.94 L241.86,490.02 L243.86,490.10 L245.86,490.20 L247.86,490.30 L249.85,490.40 L251.85,490.50 L253.85,490.60 L255.84,490.71 L257.84,490.82 L259.84,490.94 L261.83,491.07 L263.83,491.20 L265.82,491.33 L267.82,491.46 L269.82,491.59 L271.81,491.72 L273.81,491.85 L275.80,491.97 L277.80,492.08 L279.80,492.19 L281.80,492.29 L283.79,492.40 L285.79,492.50 L287.79,492.60 L289.78,492.70 L291.78,492.80 L293.78,492.91 L295.78,493.02 L297.77,493.13 L299.77,493.24 L301.77,493.36 L303.76,493.47 L305.76,493.58 L307.76,493.70 L309.75,493.81 L311.75,493.93 L313.75,494.04 L315.74,494.16 L317.74,494.29 L319.74,494.42 L321.73,494.55 L323.73,494.70 L325.72,494.85 L327.71,495.00 L329.71,495.16 L331.70,495.31 L333.70,495.46 L335.69,495.61 L337.69,495.74 L339.68,495.86 L341.68,495.98 L343.68,496.09 L345.67,496.19 L347.67,496.29 L349.67,496.39 L351.67,496.49 L353.66,496.58 L355.66,496.68 L357.66,496.77 L359.66,496.87 L361.65,496.96 L363.65,497.05 L365.65,497.14 L367.65,497.23 L369.65,497.32 L371.64,497.41 L373.64,497.50 L375.64,497.60 L377.64,497.69 L379.63,497.79 L381.63,497.89 L383.63,497.99 L385.63,498.09 L387.63,498.19 L389.62,498.28 L391.62,498.38 L393.62,498.48 L395.62,498.58 L397.61,498.67 L399.61,498.76 L401.61,498.84 L403.61,498.91 L405.61,498.98 L407.61,499.05 L409.60,499.11 L411.60,499.18 L413.60,499.24 L415.60,499.31 L417.60,499.38 L419.60,499.44 L421.60,499.51 L423.60,499.57 L425.60,499.64 L427.59,499.72 L429.59,499.81 L431.59,499.91 L433.59,500.02 L435.58,500.14 L437.58,500.27 L439.57,500.40 L441.57,500.53 L443.56,500.67 L445.56,500.79 L447.56,500.91 L449.55,501.02 L451.55,501.12 L453.55,501.20 L455.55,501.27 L457.55,501.34 L459.55,501.41 L461.54,501.47 L463.54,501.53 L465.54,501.60 L467.54,501.66 L469.54,501.72 L471.54,501.79 L473.54,501.84 L475.54,501.90 L477.54,501.96 L479.54,502.01 L481.54,502.07 L483.53,502.12 L485.53,502.18 L487.53,502.24 L489.53,502.29 L491.53,502.36 L493.53,502.42 L495.53,502.49 L497.53,502.57 L499.53,502.65 L501.52,502.73 L503.52,502.81 L505.52,502.90 L507.52,502.98 L509.52,503.06 L511.51,503.15 L513.51,503.23 L515.51,503.32 L517.51,503.42 L519.51,503.52 L521.50,503.61 L523.50,503.71 L525.50,503.81 L527.50,503.92 L529.49,504.02 L531.49,504.12 L533.49,504.23 L535.49,504.34 L537.48,504.45 L539.48,504.58 L541.47,504.71 L543.47,504.85 L545.46,504.98 L547.46,505.12 L549.45,505.26 L551.45,505.40 L553.44,505.54 L555.44,505.68 L557.43,505.82 L559.43,505.96 L561.42,506.10 L563.42,506.24 L565.41,506.38 L567.41,506.52 L569.40,506.66 L571.40,506.81 L573.39,506.96 L575.39,507.11 L577.38,507.26 L579.38,507.42 L581.37,507.58 L583.36,507.74 L585.36,507.92 L587.35,508.10 L589.34,508.29 L591.33,508.49 L593.32,508.69 L595.31,508.89 L597.30,509.10 L599.28,509.32 L601.27,509.55 L603.26,509.77 L605.24,510.01 L607.23,510.25 L609.21,510.50 L611.20,510.76 L613.18,511.04 L615.15,511.33 L617.13,511.63 L619.11,511.94 L621.08,512.24 L623.06,512.54 L625.04,512.85 L627.02,513.14 L628.99,513.44 L630.97,513.73 L632.95,514.02 L634.93,514.29 L636.92,514.55 L638.90,514.80 L640.88,515.03 L642.85,515.26 L644.79,515.47 L646.67,515.68 L648.47,515.88 L649.34,515.97"/>
<path stroke="#b3b3b3" stroke-dasharray="0.00,0.50,1.00,1.27,1.00,2.69,1.00,2.53,21.38,1.00,26.24,1.00,34.72,1.00,15.71,1.00,25.82,1.07,15.05,1.00,33.04,1.00,38.63,1.78,15.76,1.00,28.54,1.35,24.53,1.00,25.55,1.00,20.54,1.00,27.40,1.00,20.77,1.00,26.49,1.00,15.54,1.00,28.91,1.08,19.65,1.00,36.50,1.00,23.32,1.00,32.78,1.55,25.55,1.12,31.76,1.00,29.69,1.35,36.15,1.18,29.73,1.00,21.07,1.00,25.36,1.00,28.72,1.13" d="M164.50,481.61 L166.49,481.82 L168.47,482.05 L170.45,482.31 L172.43,482.62 L174.39,482.97 L176.35,483.35 L178.31,483.77 L180.26,484.20 L182.21,484.65 L184.16,485.08 L186.11,485.50 L188.07,485.89 L190.04,486.24 L192.01,486.56 L193.99,486.85 L195.97,487.10 L197.96,487.33 L199.95,487.54 L201.94,487.73 L203.93,487.92 L205.92,488.09 L207.91,488.27 L209.91,488.44 L211.90,488.60 L213.89,488.74 L215.89,488.88 L217.89,488.99 L219.88,489.10 L221.88,489.20 L223.88,489.31 L225.88,489.40 L227.87,489.50 L229.87,489.59 L231.87,489.67 L233.87,489.74 L235.87,489.80 L237.87,489.87 L239.86,489.94 L241.86,490.02 L243.86,490.10 L245.86,490.20 L247.86,490.30 L249.85,490.40 L251.85,490.50 L253.85,490.60 L255.84,490.71 L257.84,490.82 L259.84,490.94 L261.83,491.07 L263.83,491.20 L265.82,491.33 L267.82,491.46 L269.82,491.59 L271.81,491.72 L273.81,491.85 L275.80,491.97 L277.80,492.08 L279.80,492.19 L281.80,492.29 L283.79,492.40 L285.79,492.50 L287.79,492.60 L289.78,492.70 L291.78,492.80 L293.78,492.91 L295.78,493.02 L297.77,493.13 L299.77,493.24 L301.77,493.36 L303.76,493.47 L305.76,493.58 L307.76,493.70 L309.75,493.81 L311.75,493.93 L313.75,494.04 L315.74,494.16 L317.74,494.29 L319.74,494.42 L321.73,494.55 L323.73,494.70 L325.72,494.85 L327.71,495.00 L329.71,495.16 L331.70,495.31 L333.70,495.46 L335.69,495.61 L337.69,495.74 L339.68,495.86 L341.68,495.98 L343.68,496.09 L345.67,496.19 L347.67,496.29 L349.67,496.39 L351.67,496.49 L353.66,496.58 L355.66,496.68 L357.66,496.77 L359.66,496.87 L361.65,496.96 L363.65,497.05 L365.65,497.14 L367.65,497.23 L369.65,497.32 L371.64,497.41 L373.64,497.50 L375.64,497.60 L377.64,497.69 L379.63,497.79 L381.63,497.89 L383.63,497.99 L385.63,498.09 L387.63,498.19 L389.62,498.28 L391.62,498.38 L393.62,498.48 L395.62,498.58 L397.61,498.67 L399.61,498.76 L401.61,498.84 L403.61,498.91 L405.61,498.98 L407.61,499.05 L409.60,499.11 L411.60,499.18 L413.60,499.24 L415.60,499.31 L417.60,499.38 L419.60,499.44 L421.60,499.51 L423.60,499.57 L425.60,499.64 L427.59,499.72 L429.59,499.81 L431.59,499.91 L433.59,500.02 L435.58,500.14 L437.58,500.27 L439.57,500.40 L441.57,500.53 L443.56,500.67 L445.56,500.79 L447.56,500.91 L449.55,501.02 L451.55,501.12 L453.55,501.20 L455.55,501.27 L457.55,501.34 L459.55,501.41 L461.54,501.47 L463.54,501.53 L465.54,501.60 L467.54,501.66 L469.54,501.72 L471.54,501.79 L473.54,501.84 L475.54,501.90 L477.54,501.96 L479.54,502.01 L481.54,502.07 L483.53,502.12 L485.53,502.18 L487.53,502.24 L489.53,502.29 L491.53,502.36 L493.53,502.42 L495.53,502.49 L497.53,502.57 L499.53,502.65 L501.52,502.73 L503.52,502.81 L505.52,502.90 L507.52,502.98 L509.52,503.06 L511.51,503.15 L513.51,503.23 L515.51,503.32 L517.51,503.42 L519.51,503.52 L521.50,503.61 L523.50,503.71 L525.50,503.81 L527.50,503.92 L529.49,504.02 L531.49,504.12 L533.49,504.23 L535.49,504.34 L537.48,504.45 L539.48,504.58 L541.47,504.71 L543.47,504.85 L545.46,504.98 L547.46,505.12 L549.45,505.26 L551.45,505.40 L553.44,505.54 L555.44,505.68 L557.43,505.82 L559.43,505.96 L561.42,506.10 L563.42,506.24 L565.41,506.38 L567.41,506.52 L569.40,506.66 L571.40,506.81 L573.39,506.96 L575.39,507.11 L577.38,507.26 L579.38,507.42 L581.37,507.58 L583.36,507.74 L585.36,507.92 L587.35,508.10 L589.34,508.29 L591.33,508.49 L593.32,508.69 L595.31,508.89 L597.30,509.10 L599.28,509.32 L601.27,509.55 L603.26,509.77 L605.24,510.01 L607.23,510.25 L609.21,510.50 L611.20,510.76 L613.18,511.04 L615.15,511.33 L617.13,511.63 L619.11,511.94 L621.08,512.24 L623.06,512.54 L625.04,512.85 L627.02,513.14 L628.99,513.44 L630.97,513.73 L632.95,514.02 L634.93,514.29 L636.92,514.55 L638.90,514.80 L640.88,515.03 L642.85,515.26 L644.79,515.47 L646.67,515.68 L648.47,515.88 L649.34,515.97"/>
<path stroke="#8f8f8f" stroke-width="1.2" d="M169.90,522.90 L171.82,523.45 L173.75,523.99 L175.68,524.52 L177.61,525.04 L179.54,525.54 L181.49,526.01 L183.43,526.47 L185.38,526.91 L187.34,527.34 L189.29,527.75 L191.25,528.14 L193.22,528.50 L195.19,528.83 L197.16,529.12 L199.15,529.38 L201.13,529.61 L203.12,529.82 L205.11,530.02 L207.10,530.22 L209.09,530.41 L211.08,530.60 L213.07,530.76 L215.07,530.91 L217.06,531.04 L219.06,531.16 L221.06,531.26 L223.05,531.36 L225.05,531.46 L227.05,531.56 L229.05,531.65 L231.05,531.73 L233.04,531.81 L235.04,531.87 L237.04,531.92 L239.04,531.97 L241.04,532.01 L243.04,532.05 L245.04,532.08 L247.04,532.12 L249.04,532.15 L251.04,532.19 L253.04,532.23 L255.04,532.27 L257.04,532.33 L259.04,532.39 L261.03,532.47 L263.03,532.56 L265.03,532.66 L267.03,532.76 L269.02,532.86 L271.02,532.96 L273.02,533.06 L275.02,533.16 L277.01,533.26 L279.01,533.36 L281.01,533.46 L283.01,533.56 L285.00,533.66 L287.00,533.76 L289.00,533.86 L291.00,533.95 L292.99,534.04 L294.99,534.13 L296.99,534.22 L298.99,534.30 L300.99,534.37 L302.99,534.45 L304.98,534.53 L306.98,534.60 L308.98,534.68 L310.98,534.76 L312.98,534.83 L314.98,534.92 L316.98,535.00 L318.97,535.10 L320.97,535.21 L322.97,535.33 L324.96,535.47 L326.96,535.61 L328.95,535.75 L330.95,535.89 L332.94,536.03 L334.94,536.16 L336.93,536.28 L338.93,536.39 L340.93,536.48 L342.92,536.56 L344.92,536.63 L346.92,536.70 L348.92,536.77 L350.92,536.84 L352.92,536.91 L354.92,536.99 L356.91,537.07 L358.91,537.16 L360.91,537.26 L362.91,537.35 L364.91,537.45 L366.90,537.55 L368.90,537.65 L370.90,537.74 L372.90,537.82 L374.90,537.89 L376.89,537.94 L378.89,537.99 L380.89,538.03 L382.89,538.07 L384.89,538.11 L386.89,538.15 L388.89,538.19 L390.89,538.23 L392.89,538.27 L394.89,538.31 L396.89,538.35 L398.89,538.40 L400.89,538.47 L402.89,538.54 L404.88,538.61 L406.88,538.69 L408.88,538.78 L410.88,538.86 L412.88,538.95 L414.88,539.03 L416.87,539.12 L418.87,539.20 L420.87,539.29 L422.87,539.37 L424.87,539.45 L426.87,539.53 L428.86,539.60 L430.86,539.66 L432.86,539.70 L434.86,539.73 L436.86,539.76 L438.86,539.78 L440.86,539.81 L442.86,539.83 L444.86,539.85 L446.86,539.88 L448.86,539.91 L450.86,539.94 L452.86,539.99 L454.86,540.04 L456.86,540.09 L458.86,540.14 L460.86,540.20 L462.86,540.25 L464.86,540.31 L466.85,540.36 L468.85,540.42 L470.85,540.48 L472.85,540.54 L474.85,540.60 L476.85,540.66 L478.85,540.73 L480.85,540.79 L482.85,540.86 L484.85,540.92 L486.84,540.99 L488.84,541.05 L490.84,541.12 L492.84,541.18 L494.84,541.25 L496.84,541.32 L498.84,541.40 L500.84,541.47 L502.83,541.54 L504.83,541.62 L506.83,541.69 L508.83,541.77 L510.83,541.85 L512.83,541.93 L514.82,542.03 L516.82,542.15 L518.82,542.27 L520.81,542.41 L522.81,542.55 L524.80,542.70 L526.80,542.84 L528.79,542.99 L530.78,543.14 L532.78,543.28 L534.77,543.42 L536.77,543.56 L538.76,543.70 L540.76,543.84 L542.76,543.97 L544.75,544.10 L546.75,544.23 L548.74,544.36 L550.74,544.49 L552.73,544.62 L554.73,544.76 L556.73,544.89 L558.72,545.02 L560.72,545.16 L562.71,545.29 L564.71,545.43 L566.70,545.57 L568.70,545.71 L570.69,545.86 L572.69,546.00 L574.68,546.15 L576.68,546.31 L578.67,546.46 L580.66,546.62 L582.66,546.78 L584.65,546.95 L586.64,547.13 L588.63,547.32 L590.62,547.52 L592.61,547.72 L594.60,547.93 L596.59,548.16 L598.57,548.40 L600.55,548.65 L602.54,548.93 L604.51,549.21 L606.49,549.51 L608.47,549.81 L610.45,550.12 L612.42,550.43 L614.39,550.76 L616.37,551.09 L618.34,551.43 L620.31,551.76 L622.28,552.09 L624.26,552.42 L626.23,552.74 L628.20,553.05 L630.18,553.36 L632.16,553.67 L634.13,553.98 L636.11,554.29 L638.08,554.60 L640.06,554.91 L642.03,555.22 L643.99,555.52 L645.91,555.82 L647.73,556.10 L649.39,556.36 L650.80,556.58 L651.40,556.68"/>
<path stroke="#8f8f8f" stroke-dasharray="0.00,0.50,1.00,2.91,1.00,2.90,1.00,1.11,13.95,1.00,28.93,1.49,19.09,1.00,25.96,1.23,15.64,1.00,21.05,1.14,34.88,2.24,24.52,1.01,18.17,1.00,12.63,1.00,19.32,1.00,32.51,1.46,24.89,1.00,12.55,1.00,15.14,1.00,34.97,1.81,16.18,1.00,30.33,1.65,32.85,1.83,30.16,1.12,34.56,2.24,15.71,1.00,28.45,1.19,24.20,1.05,33.27,1.46,31.13,1.15,32.31,2.01,22.60,1.06,33.17,1.79,23.19,1.00,19.47,1.03" d="M169.90,522.90 L171.82,523.45 L173.75,523.99 L175.68,524.52 L177.61,525.04 L179.54,525.54 L181.49,526.01 L183.43,526.47 L185.38,526.91 L187.34,527.34 L189.29,527.75 L191.25,528.14 L193.22,528.50 L195.19,528.83 L197.16,529.12 L199.15,529.38 L201.13,529.61 L203.12,529.82 L205.11,530.02 L207.10,530.22 L209.09,530.41 L211.08,530.60 L213.07,530.76 L215.07,530.91 L217.06,531.04 L219.06,531.16 L221.06,531.26 L223.05,531.36 L225.05,531.46 L227.05,531.56 L229.05,531.65 L231.05,531.73 L233.04,531.81 L235.04,531.87 L237.04,531.92 L239.04,531.97 L241.04,532.01 L243.04,532.05 L245.04,532.08 L247.04,532.12 L249.04,532.15 L251.04,532.19 L253.04,532.23 L255.04,532.27 L257.04,532.33 L259.04,532.39 L261.03,532.47 L263.03,532.56 L265.03,532.66 L267.03,532.76 L269.02,532.86 L271.02,532.96 L273.02,533.06 L275.02,533.16 L277.01,533.26 L279.01,533.36 L281.01,533.46 L283.01,533.56 L285.00,533.66 L287.00,533.76 L289.00,533.86 L291.00,533.95 L292.99,534.04 L294.99,534.13 L296.99,534.22 L298.99,534.30 L300.99,534.37 L302.99,534.45 L304.98,534.53 L306.98,534.60 L308.98,534.68 L310.98,534.76 L312.98,534.83 L314.98,534.92 L316.98,535.00 L318.97,535.10 L320.97,535.21 L322.97,535.33 L324.96,535.47 L326.96,535.61 L328.95,535.75 L330.95,535.89 L332.94,536.03 L334.94,536.16 L336.93,536.28 L338.93,536.39 L340.93,536.48 L342.92,536.56 L344.92,536.63 L346.92,536.70 L348.92,536.77 L350.92,536.84 L352.92,536.91 L354.92,536.99 L356.91,537.07 L358.91,537.16 L360.91,537.26 L362.91,537.35 L364.91,537.45 L366.90,537.55 L368.90,537.65 L370.90,537.74 L372.90,537.82 L374.90,537.89 L376.89,537.94 L378.89,537.99 L380.89,538.03 L382.89,538.07 L384.89,538.11 L386.89,538.15 L388.89,538.19 L390.89,538.23 L392.89,538.27 L394.89,538.31 L396.89,538.35 L398.89,538.40 L400.89,538.47 L402.89,538.54 L404.88,538.61 L406.88,538.69 L408.88,538.78 L410.88,538.86 L412.88,538.95 L414.88,539.03 L416.87,539.12 L418.87,539.20 L420.87,539.29 L422.87,539.37 L424.87,539.45 L426.87,539.53 L428.86,539.60 L430.86,539.66 L432.86,539.70 L434.86,539.73 L436.86,539.76 L438.86,539.78 L440.86,539.81 L442.86,539.83 L444.86,539.85 L446.86,539.88 L448.86,539.91 L450.86,539.94 L452.86,539.99 L454.86,540.04 L456.86,540.09 L458.86,540.14 L460.86,540.20 L462.86,540.25 L464.86,540.31 L466.85,540.36 L468.85,540.42 L470.85,540.48 L472.85,540.54 L474.85,540.60 L476.85,540.66 L478.85,540.73 L480.85,540.79 L482.85,540.86 L484.85,540.92 L486.84,540.99 L488.84,541.05 L490.84,541.12 L492.84,541.18 L494.84,541.25 L496.84,541.32 L498.84,541.40 L500.84,541.47 L502.83,541.54 L504.83,541.62 L506.83,541.69 L508.83,541.77 L510.83,541.85 L512.83,541.93 L514.82,542.03 L516.82,542.15 L518.82,542.27 L520.81,542.41 L522.81,542.55 L524.80,542.70 L526.80,542.84 L528.79,542.99 L530.78,543.14 L532.78,543.28 L534.77,543.42 L536.77,543.56 L538.76,543.70 L540.76,543.84 L542.76,543.97 L544.75,544.10 L546.75,544.23 L548.74,544.36 L550.74,544.49 L552.73,544.62 L554.73,544.76 L556.73,544.89 L558.72,545.02 L560.72,545.16 L562.71,545.29 L564.71,545.43 L566.70,545.57 L568.70,545.71 L570.69,545.86 L572.69,546.00 L574.68,546.15 L576.68,546.31 L578.67,546.46 L580.66,546.62 L582.66,546.78 L584.65,546.95 L586.64,547.13 L588.63,547.32 L590.62,547.52 L592.61,547.72 L594.60,547.93 L596.59,548.16 L598.57,548.40 L600.55,548.65 L602.54,548.93 L604.51,549.21 L606.49,549.51 L608.47,549.81 L610.45,550.12 L612.42,550.43 L614.39,550.76 L616.37,551.09 L618.34,551.43 L620.31,551.76 L622.28,552.09 L624.26,552.42 L626.23,552.74 L628.20,553.05 L630.18,553.36 L632.16,553.67 L634.13,553.98 L636.11,554.29 L638.08,554.60 L640.06,554.91 L642.03,555.22 L643.99,555.52 L645.91,555.82 L647.73,556.10 L649.39,556.36 L650.80,556.58 L651.40,556.68"/>
<path stroke="#6b6b6b" stroke-width="1.2" d="M180.60,567.79 L182.46,568.53 L184.32,569.25 L186.20,569.92 L188.10,570.55 L190.01,571.11 L191.94,571.63 L193.88,572.09 L195.83,572.51 L197.79,572.89 L199.76,573.22 L201.74,573.51 L203.72,573.78 L205.71,574.01 L207.69,574.22 L209.68,574.40 L211.68,574.57 L213.67,574.70 L215.67,574.82 L217.66,574.91 L219.66,574.99 L221.66,575.06 L223.66,575.13 L225.66,575.20 L227.66,575.27 L229.66,575.35 L231.65,575.44 L233.65,575.54 L235.65,575.64 L237.64,575.75 L239.64,575.87 L241.64,575.97 L243.64,576.08 L245.63,576.18 L247.63,576.28 L249.63,576.38 L251.63,576.48 L253.62,576.58 L255.62,576.69 L257.62,576.79 L259.62,576.89 L261.61,576.99 L263.61,577.09 L265.61,577.19 L267.61,577.29 L269.60,577.39 L271.60,577.49 L273.60,577.60 L275.59,577.72 L277.59,577.84 L279.58,577.98 L281.58,578.12 L283.57,578.26 L285.57,578.40 L287.56,578.55 L289.56,578.69 L291.55,578.83 L293.55,578.98 L295.54,579.12 L297.54,579.26 L299.53,579.39 L301.53,579.53 L303.53,579.67 L305.52,579.81 L307.52,579.94 L309.51,580.08 L311.51,580.22 L313.50,580.35 L315.50,580.49 L317.49,580.62 L319.49,580.75 L321.48,580.87 L323.48,580.99 L325.48,581.10 L327.47,581.22 L329.47,581.33 L331.47,581.44 L333.47,581.55 L335.46,581.66 L337.46,581.77 L339.46,581.87 L341.45,581.98 L343.45,582.08 L345.45,582.18 L347.45,582.28 L349.44,582.38 L351.44,582.48 L353.44,582.58 L355.44,582.68 L357.43,582.78 L359.43,582.88 L361.43,582.98 L363.43,583.08 L365.42,583.18 L367.42,583.28 L369.42,583.38 L371.42,583.47 L373.41,583.56 L375.41,583.64 L377.41,583.72 L379.41,583.79 L381.41,583.86 L383.41,583.93 L385.41,584.00 L387.41,584.07 L389.40,584.14 L391.40,584.21 L393.40,584.28 L395.40,584.35 L397.40,584.43 L399.40,584.52 L401.39,584.62 L403.39,584.74 L405.39,584.86 L407.38,584.98 L409.38,585.11 L411.37,585.24 L413.37,585.37 L415.37,585.50 L417.36,585.63 L419.36,585.76 L421.35,585.89 L423.35,586.02 L425.34,586.15 L427.34,586.26 L429.34,586.35 L431.34,586.42 L433.33,586.47 L435.33,586.50 L437.33,586.52 L439.33,586.53 L441.33,586.54 L443.33,586.54 L445.33,586.55 L447.33,586.56 L449.33,586.56 L451.33,586.57 L453.33,586.58 L455.33,586.59 L457.33,586.61 L459.33,586.65 L461.33,586.70 L463.33,586.76 L465.33,586.84 L467.33,586.92 L469.32,587.00 L471.32,587.09 L473.32,587.17 L475.32,587.26 L477.32,587.34 L479.31,587.43 L481.31,587.52 L483.31,587.60 L485.31,587.69 L487.31,587.78 L489.30,587.88 L491.30,587.97 L493.30,588.06 L495.30,588.15 L497.30,588.25 L499.29,588.34 L501.29,588.44 L503.29,588.53 L505.29,588.63 L507.28,588.73 L509.28,588.84 L511.28,588.97 L513.27,589.11 L515.26,589.26 L517.26,589.42 L519.25,589.59 L521.24,589.76 L523.24,589.93 L525.23,590.11 L527.22,590.28 L529.21,590.45 L531.21,590.62 L533.20,590.80 L535.19,590.99 L537.18,591.19 L539.17,591.40 L541.16,591.62 L543.14,591.84 L545.13,592.07 L547.12,592.30 L549.10,592.53 L551.09,592.76 L553.08,593.00 L555.06,593.25 L557.04,593.51 L559.02,593.80 L560.99,594.13 L562.95,594.50 L564.91,594.90 L566.86,595.32 L568.82,595.74 L570.77,596.17 L572.73,596.60 L574.68,597.03 L576.63,597.45 L578.59,597.87 L580.55,598.28 L582.50,598.69 L584.46,599.10 L586.41,599.53 L588.36,599.98 L590.30,600.45 L592.24,600.94 L594.17,601.45 L596.10,601.98 L598.03,602.53 L599.94,603.10 L601.85,603.70 L603.75,604.32 L605.64,604.96 L607.52,605.64 L609.39,606.35 L611.26,607.07 L613.11,607.81 L614.97,608.56 L616.82,609.31 L618.67,610.06 L620.52,610.83 L622.37,611.60 L624.21,612.38 L626.04,613.17 L627.88,613.97 L629.71,614.78 L631.53,615.60 L633.35,616.42 L635.17,617.25 L636.99,618.09 L638.80,618.94 L640.60,619.80 L642.38,620.67 L644.12,621.53 L645.80,622.37 L647.37,623.17 L648.80,623.90"/>
<path stroke="#6b6b6b" stroke-dasharray="0.00,0.50,1.00,1.48,1.00,2.09,1.00,1.74,1.00,2.21,18.64,1.00,8.22,1.02,12.41,1.00,24.93,2.20,22.22,1.98,18.86,1.09,18.79,2.38,16.89,1.93,19.41,1.00,20.89,2.09,13.12,1.00,22.71,2.01,20.22,0.78,1.00,0.79,23.66,1.92,21.62,1.86,23.90,0.84,1.00,1.21,10.31,1.00,24.41,2.08,18.65,1.35,16.62,1.34,13.97,1.39,17.93,2.33,19.59,0.79,1.00,0.80,24.85,0.81,1.00,0.86,22.63,1.23,1.00,0.84,17.67,1.98,11.59,1.43,17.75,1.26,9.08,1.14,24.83,1.29,21.61,1.79,10.56,1.00,21.07,0.80,1.00,0.87,18.45,1.00,20.21,1.52,22.98,1.08,1.00,1.07,24.97,1.83,9.31,1.00,8.53,1.00,14.93,1.52,10.66,1.00" d="M180.60,567.79 L182.46,568.53 L184.32,569.25 L186.20,569.92 L188.10,570.55 L190.01,571.11 L191.94,571.63 L193.88,572.09 L195.83,572.51 L197.79,572.89 L199.76,573.22 L201.74,573.51 L203.72,573.78 L205.71,574.01 L207.69,574.22 L209.68,574.40 L211.68,574.57 L213.67,574.70 L215.67,574.82 L217.66,574.91 L219.66,574.99 L221.66,575.06 L223.66,575.13 L225.66,575.20 L227.66,575.27 L229.66,575.35 L231.65,575.44 L233.65,575.54 L235.65,575.64 L237.64,575.75 L239.64,575.87 L241.64,575.97 L243.64,576.08 L245.63,576.18 L247.63,576.28 L249.63,576.38 L251.63,576.48 L253.62,576.58 L255.62,576.69 L257.62,576.79 L259.62,576.89 L261.61,576.99 L263.61,577.09 L265.61,577.19 L267.61,577.29 L269.60,577.39 L271.60,577.49 L273.60,577.60 L275.59,577.72 L277.59,577.84 L279.58,577.98 L281.58,578.12 L283.57,578.26 L285.57,578.40 L287.56,578.55 L289.56,578.69 L291.55,578.83 L293.55,578.98 L295.54,579.12 L297.54,579.26 L299.53,579.39 L301.53,579.53 L303.53,579.67 L305.52,579.81 L307.52,579.94 L309.51,580.08 L311.51,580.22 L313.50,580.35 L315.50,580.49 L317.49,580.62 L319.49,580.75 L321.48,580.87 L323.48,580.99 L325.48,581.10 L327.47,581.22 L329.47,581.33 L331.47,581.44 L333.47,581.55 L335.46,581.66 L337.46,581.77 L339.46,581.87 L341.45,581.98 L343.45,582.08 L345.45,582.18 L347.45,582.28 L349.44,582.38 L351.44,582.48 L353.44,582.58 L355.44,582.68 L357.43,582.78 L359.43,582.88 L361.43,582.98 L363.43,583.08 L365.42,583.18 L367.42,583.28 L369.42,583.38 L371.42,583.47 L373.41,583.56 L375.41,583.64 L377.41,583.72 L379.41,583.79 L381.41,583.86 L383.41,583.93 L385.41,584.00 L387.41,584.07 L389.40,584.14 L391.40,584.21 L393.40,584.28 L395.40,584.35 L397.40,584.43 L399.40,584.52 L401.39,584.62 L403.39,584.74 L405.39,584.86 L407.38,584.98 L409.38,585.11 L411.37,585.24 L413.37,585.37 L415.37,585.50 L417.36,585.63 L419.36,585.76 L421.35,585.89 L423.35,586.02 L425.34,586.15 L427.34,586.26 L429.34,586.35 L431.34,586.42 L433.33,586.47 L435.33,586.50 L437.33,586.52 L439.33,586.53 L441.33,586.54 L443.33,586.54 L445.33,586.55 L447.33,586.56 L449.33,586.56 L451.33,586.57 L453.33,586.58 L455.33,586.59 L457.33,586.61 L459.33,586.65 L461.33,586.70 L463.33,586.76 L465.33,586.84 L467.33,586.92 L469.32,587.00 L471.32,587.09 L473.32,587.17 L475.32,587.26 L477.32,587.34 L479.31,587.43 L481.31,587.52 L483.31,587.60 L485.31,587.69 L487.31,587.78 L489.30,587.88 L491.30,587.97 L493.30,588.06 L495.30,588.15 L497.30,588.25 L499.29,588.34 L501.29,588.44 L503.29,588.53 L505.29,588.63 L507.28,588.73 L509.28,588.84 L511.28,588.97 L513.27,589.11 L515.26,589.26 L517.26,589.42 L519.25,589.59 L521.24,589.76 L523.24,589.93 L525.23,590.11 L527.22,590.28 L529.21,590.45 L531.21,590.62 L533.20,590.80 L535.19,590.99 L537.18,591.19 L539.17,591.40 L541.16,591.62 L543.14,591.84 L545.13,592.07 L547.12,592.30 L549.10,592.53 L551.09,592.76 L553.08,593.00 L555.06,593.25 L557.04,593.51 L559.02,593.80 L560.99,594.13 L562.95,594.50 L564.91,594.90 L566.86,595.32 L568.82,595.74 L570.77,596.17 L572.73,596.60 L574.68,597.03 L576.63,597.45 L578.59,597.87 L580.55,598.28 L582.50,598.69 L584.46,599.10 L586.41,599.53 L588.36,599.98 L590.30,600.45 L592.24,600.94 L594.17,601.45 L596.10,601.98 L598.03,602.53 L599.94,603.10 L601.85,603.70 L603.75,604.32 L605.64,604.96 L607.52,605.64 L609.39,606.35 L611.26,607.07 L613.11,607.81 L614.97,608.56 L616.82,609.31 L618.67,610.06 L620.52,610.83 L622.37,611.60 L624.21,612.38 L626.04,613.17 L627.88,613.97 L629.71,614.78 L631.53,615.60 L633.35,616.42 L635.17,617.25 L636.99,618.09 L638.80,618.94 L640.60,619.80 L642.38,620.67 L644.12,621.53 L645.80,622.37 L647.37,623.17 L648.80,623.90"/>
<path stroke="#474747" stroke-width="1.2" d="M205.70,598.70 L207.60,599.32 L209.50,599.93 L211.41,600.52 L213.33,601.07 L215.26,601.57 L217.21,602.03 L219.16,602.45 L221.12,602.86 L223.08,603.26 L225.04,603.65 L227.00,604.03 L228.97,604.39 L230.94,604.72 L232.91,605.01 L234.90,605.27 L236.88,605.50 L238.87,605.73 L240.85,605.96 L242.84,606.20 L244.82,606.45 L246.80,606.71 L248.79,606.98 L250.77,607.24 L252.75,607.51 L254.73,607.77 L256.72,608.02 L258.70,608.27 L260.69,608.52 L262.67,608.75 L264.66,608.99 L266.65,609.22 L268.63,609.45 L270.62,609.68 L272.61,609.91 L274.59,610.14 L276.58,610.37 L278.57,610.59 L280.55,610.82 L282.54,611.04 L284.53,611.26 L286.52,611.48 L288.50,611.70 L290.49,611.91 L292.48,612.11 L294.47,612.30 L296.47,612.47 L298.46,612.63 L300.45,612.78 L302.45,612.93 L304.44,613.07 L306.44,613.22 L308.43,613.36 L310.43,613.51 L312.42,613.65 L314.42,613.80 L316.41,613.95 L318.40,614.11 L320.40,614.27 L322.39,614.44 L324.38,614.62 L326.37,614.81 L328.36,614.99 L330.36,615.18 L332.35,615.37 L334.34,615.54 L336.33,615.70 L338.33,615.85 L340.32,615.97 L342.32,616.08 L344.32,616.18 L346.31,616.27 L348.31,616.36 L350.31,616.45 L352.31,616.54 L354.31,616.63 L356.30,616.73 L358.30,616.82 L360.30,616.92 L362.30,617.02 L364.29,617.12 L366.29,617.22 L368.29,617.32 L370.29,617.42 L372.28,617.51 L374.28,617.59 L376.28,617.67 L378.28,617.75 L380.28,617.82 L382.28,617.89 L384.28,617.96 L386.27,618.03 L388.27,618.10 L390.27,618.17 L392.27,618.24 L394.27,618.31 L396.27,618.38 L398.27,618.46 L400.26,618.55 L402.26,618.64 L404.26,618.74 L406.26,618.85 L408.25,618.96 L410.25,619.07 L412.25,619.18 L414.24,619.29 L416.24,619.40 L418.24,619.51 L420.23,619.62 L422.23,619.73 L424.23,619.84 L426.23,619.95 L428.22,620.05 L430.22,620.15 L432.22,620.24 L434.22,620.31 L436.22,620.39 L438.21,620.46 L440.21,620.53 L442.21,620.59 L444.21,620.66 L446.21,620.73 L448.21,620.80 L450.21,620.87 L452.21,620.94 L454.21,621.01 L456.20,621.08 L458.20,621.15 L460.20,621.24 L462.20,621.32 L464.20,621.42 L466.19,621.52 L468.19,621.62 L470.19,621.72 L472.19,621.82 L474.18,621.92 L476.18,622.02 L478.18,622.12 L480.18,622.23 L482.17,622.33 L484.17,622.44 L486.17,622.54 L488.16,622.66 L490.16,622.77 L492.16,622.88 L494.15,623.00 L496.15,623.12 L498.15,623.24 L500.14,623.35 L502.14,623.47 L504.14,623.59 L506.13,623.71 L508.13,623.83 L510.13,623.96 L512.12,624.10 L514.11,624.25 L516.11,624.41 L518.10,624.57 L520.10,624.73 L522.09,624.89 L524.08,625.06 L526.08,625.22 L528.07,625.38 L530.06,625.55 L532.05,625.72 L534.05,625.89 L536.04,626.08 L538.03,626.28 L540.02,626.49 L542.00,626.71 L543.99,626.94 L545.98,627.17 L547.96,627.40 L549.95,627.63 L551.94,627.86 L553.92,628.10 L555.91,628.35 L557.88,628.63 L559.86,628.93 L561.83,629.27 L563.79,629.65 L565.75,630.05 L567.71,630.46 L569.66,630.88 L571.62,631.30 L573.57,631.72 L575.52,632.15 L577.48,632.59 L579.42,633.05 L581.36,633.53 L583.30,634.03 L585.22,634.57 L587.14,635.13 L589.05,635.72 L590.95,636.34 L592.85,636.97 L594.74,637.63 L596.62,638.30 L598.50,638.99 L600.37,639.68 L602.25,640.38 L604.11,641.10 L605.97,641.85 L607.81,642.62 L609.64,643.43 L611.45,644.27 L613.25,645.14 L615.03,646.04 L616.80,646.98 L618.54,647.95 L620.27,648.96 L621.96,650.01 L623.64,651.10 L625.27,652.24 L626.87,653.42 L628.44,654.67 L629.96,655.95 L631.45,657.29 L632.90,658.65 L634.32,660.06 L635.71,661.50 L637.07,662.96 L638.41,664.44 L639.73,665.94 L641.03,667.46 L642.31,668.99 L643.59,670.53 L644.85,672.07 L646.12,673.59 L647.37,675.09 L648.60,676.56 L649.80,677.97"/>
<path stroke="#474747" stroke-dasharray="0.00,0.50,1.00,1.47,1.00,1.21,1.00,1.79,1.00,1.31,1.00,1.13,1.00,1.80,13.18,3.40,1.00,1.60,6.22,2.38,6.77,1.64,5.06,1.31,13.27,3.54,1.00,1.46,12.00,0.93,1.00,1.08,10.27,2.60,1.00,1.11,12.80,0.85,1.00,0.83,10.72,1.05,1.00,1.93,8.74,1.84,13.35,2.66,1.00,2.34,7.00,1.42,1.00,1.27,12.82,2.53,1.00,2.47,8.14,1.11,1.00,1.21,5.61,1.65,12.13,2.33,4.46,1.86,6.80,0.80,1.00,0.80,7.43,1.11,1.00,2.06,8.13,2.06,10.33,0.91,1.00,1.00,11.47,1.27,1.00,1.17,13.04,0.81,1.00,0.99,6.29,1.02,1.00,0.94,6.37,1.94,5.78,2.04,4.43,1.97,12.96,3.30,1.00,1.70,13.60,2.48,6.89,1.72,1.00,1.07,8.10,1.90,1.00,1.47,12.18,0.98,1.00,1.54,8.44,1.93,7.82,1.36,1.00,1.92,4.09,1.00,5.70,0.85,1.00,0.88,6.90,1.47,13.82,1.23,1.00,2.46,4.59,1.00,5.69,2.49,5.50,1.05,8.91,2.42,13.98,1.07,1.00,1.04,11.74,2.10,1.00,0.82,8.78,2.36,8.11,1.54,8.21,2.23,12.89,2.50,1.00,2.50,4.32,1.18,6.42,1.65,6.31,0.89,1.00,1.34,4.51,2.41,9.65,1.92,1.00,2.47,13.01,3.15,1.00,1.42,11.45,0.95,1.00,2.25,6.11,1.28,1.00,0.85,13.25,1.75,1.00,1.30,12.00,2.83,1.00,1.26,9.28,1.75,1.00,1.23,6.68,1.72,1.00,0.84,4.74,0.81,1.00,0.80,10.68,2.06,12.99,1.11,1.00,0.81,10.67,2.12,5.67,2.39,9.69,2.56,1.00,0.94,6.19,1.09" d="M205.70,598.70 L207.60,599.32 L209.50,599.93 L211.41,600.52 L213.33,601.07 L215.26,601.57 L217.21,602.03 L219.16,602.45 L221.12,602.86 L223.08,603.26 L225.04,603.65 L227.00,604.03 L228.97,604.39 L230.94,604.72 L232.91,605.01 L234.90,605.27 L236.88,605.50 L238.87,605.73 L240.85,605.96 L242.84,606.20 L244.82,606.45 L246.80,606.71 L248.79,606.98 L250.77,607.24 L252.75,607.51 L254.73,607.77 L256.72,608.02 L258.70,608.27 L260.69,608.52 L262.67,608.75 L264.66,608.99 L266.65,609.22 L268.63,609.45 L270.62,609.68 L272.61,609.91 L274.59,610.14 L276.58,610.37 L278.57,610.59 L280.55,610.82 L282.54,611.04 L284.53,611.26 L286.52,611.48 L288.50,611.70 L290.49,611.91 L292.48,612.11 L294.47,612.30 L296.47,612.47 L298.46,612.63 L300.45,612.78 L302.45,612.93 L304.44,613.07 L306.44,613.22 L308.43,613.36 L310.43,613.51 L312.42,613.65 L314.42,613.80 L316.41,613.95 L318.40,614.11 L320.40,614.27 L322.39,614.44 L324.38,614.62 L326.37,614.81 L328.36,614.99 L330.36,615.18 L332.35,615.37 L334.34,615.54 L336.33,615.70 L338.33,615.85 L340.32,615.97 L342.32,616.08 L344.32,616.18 L346.31,616.27 L348.31,616.36 L350.31,616.45 L352.31,616.54 L354.31,616.63 L356.30,616.73 L358.30,616.82 L360.30,616.92 L362.30,617.02 L364.29,617.12 L366.29,617.22 L368.29,617.32 L370.29,617.42 L372.28,617.51 L374.28,617.59 L376.28,617.67 L378.28,617.75 L380.28,617.82 L382.28,617.89 L384.28,617.96 L386.27,618.03 L388.27,618.10 L390.27,618.17 L392.27,618.24 L394.27,618.31 L396.27,618.38 L398.27,618.46 L400.26,618.55 L402.26,618.64 L404.26,618.74 L406.26,618.85 L408.25,618.96 L410.25,619.07 L412.25,619.18 L414.24,619.29 L416.24,619.40 L418.24,619.51 L420.23,619.62 L422.23,619.73 L424.23,619.84 L426.23,619.95 L428.22,620.05 L430.22,620.15 L432.22,620.24 L434.22,620.31 L436.22,620.39 L438.21,620.46 L440.21,620.53 L442.21,620.59 L444.21,620.66 L446.21,620.73 L448.21,620.80 L450.21,620.87 L452.21,620.94 L454.21,621.01 L456.20,621.08 L458.20,621.15 L460.20,621.24 L462.20,621.32 L464.20,621.42 L466.19,621.52 L468.19,621.62 L470.19,621.72 L472.19,621.82 L474.18,621.92 L476.18,622.02 L478.18,622.12 L480.18,622.23 L482.17,622.33 L484.17,622.44 L486.17,622.54 L488.16,622.66 L490.16,622.77 L492.16,622.88 L494.15,623.00 L496.15,623.12 L498.15,623.24 L500.14,623.35 L502.14,623.47 L504.14,623.59 L506.13,623.71 L508.13,623.83 L510.13,623.96 L512.12,624.10 L514.11,624.25 L516.11,624.41 L518.10,624.57 L520.10,624.73 L522.09,624.89 L524.08,625.06 L526.08,625.22 L528.07,625.38 L530.06,625.55 L532.05,625.72 L534.05,625.89 L536.04,626.08 L538.03,626.28 L540.02,626.49 L542.00,626.71 L543.99,626.94 L545.98,627.17 L547.96,627.40 L549.95,627.63 L551.94,627.86 L553.92,628.10 L555.91,628.35 L557.88,628.63 L559.86,628.93 L561.83,629.27 L563.79,629.65 L565.75,630.05 L567.71,630.46 L569.66,630.88 L571.62,631.30 L573.57,631.72 L575.52,632.15 L577.48,632.59 L579.42,633.05 L581.36,633.53 L583.30,634.03 L585.22,634.57 L587.14,635.13 L589.05,635.72 L590.95,636.34 L592.85,636.97 L594.74,637.63 L596.62,638.30 L598.50,638.99 L600.37,639.68 L602.25,640.38 L604.11,641.10 L605.97,641.85 L607.81,642.62 L609.64,643.43 L611.45,644.27 L613.25,645.14 L615.03,646.04 L616.80,646.98 L618.54,647.95 L620.27,648.96 L621.96,650.01 L623.64,651.10 L625.27,652.24 L626.87,653.42 L628.44,654.67 L629.96,655.95 L631.45,657.29 L632.90,658.65 L634.32,660.06 L635.71,661.50 L637.07,662.96 L638.41,664.44 L639.73,665.94 L641.03,667.46 L642.31,668.99 L643.59,670.53 L644.85,672.07 L646.12,673.59 L647.37,675.09 L648.60,676.56 L649.80,677.97"/>
</g>
<g stroke="#262626" stroke-width="1" shape-rendering="crispEdges" fill="none">
<rect x="104.5" y="429.5" width="604" height="255"/>
<line x1="154.5" y1="429" x2="154.5" y2="436"/>
<line x1="154.5" y1="685" x2="154.5" y2="678"/>
<line x1="298.5" y1="429" x2="298.5" y2="436"/>
<line x1="298.5" y1="685" x2="298.5" y2="678"/>
<line x1="442.5" y1="429" x2="442.5" y2="436"/>
<line x1="442.5" y1="685" x2="442.5" y2="678"/>
<line x1="586.5" y1="429" x2="586.5" y2="436"/>
<line x1="586.5" y1="685" x2="586.5" y2="678"/>
<line x1="104" y1="461.5" x2="111" y2="461.5"/>
<line x1="709" y1="461.5" x2="702" y2="461.5"/>
<line x1="104" y1="515.5" x2="111" y2="515.5"/>
<line x1="709" y1="515.5" x2="702" y2="515.5"/>
<line x1="104" y1="570.5" x2="111" y2="570.5"/>
<line x1="709" y1="570.5" x2="702" y2="570.5"/>
<line x1="104" y1="624.5" x2="111" y2="624.5"/>
<line x1="709" y1="624.5" x2="702" y2="624.5"/>
<line x1="104" y1="678.5" x2="111" y2="678.5"/>
<line x1="709" y1="678.5" x2="702" y2="678.5"/>
</g>
<g fill="#262626" font-size="32" text-anchor="end">
<text x="93" y="474" textLength="36" lengthAdjust="spacingAndGlyphs">60</text>
<text x="93" y="528" textLength="36" lengthAdjust="spacingAndGlyphs">40</text>
<text x="93" y="583" textLength="36" lengthAdjust="spacingAndGlyphs">20</text>
<text x="93" y="637" textLength="17" lengthAdjust="spacingAndGlyphs">0</text>
<text x="93" y="691" textLength="43" lengthAdjust="spacingAndGlyphs">-20</text>
</g>
<g fill="#262626" font-size="32" text-anchor="middle">
<text x="153.5" y="728">0</text>
<text x="297.5" y="728">1</text>
<text x="441.5" y="728">2</text>
<text x="585.5" y="728">3</text>
</g>
<text x="406.5" y="772" fill="#262626" font-size="32" text-anchor="middle" textLength="182" lengthAdjust="spacingAndGlyphs">capacity / Ah</text>
<text transform="translate(34,186.3) rotate(-90)" fill="#262626" font-size="32" text-anchor="middle" textLength="150" lengthAdjust="spacingAndGlyphs">voltage / V</text>
<text transform="translate(34,556.5) rotate(-90)" fill="#262626" font-size="32" text-anchor="middle" textLength="228" lengthAdjust="spacingAndGlyphs">temperature / °C</text>
<rect x="358.5" y="261.5" width="328" height="220" fill="#fff" stroke="#262626" stroke-width="1" shape-rendering="crispEdges"/>
<rect x="358" y="281" width="1" height="1" fill="#fff"/><rect x="686" y="281" width="1" height="1" fill="#fff"/>
<rect x="366" y="283.2" width="46" height="4.6" fill="#474747"/>
<text x="416" y="297.5" font-size="32" fill="#000" textLength="188" lengthAdjust="spacingAndGlyphs">-3.5A at -20°C</text>
<rect x="366" y="326.2" width="46" height="4.6" fill="#6b6b6b"/>
<text x="416" y="340.5" font-size="32" fill="#000" textLength="162" lengthAdjust="spacingAndGlyphs">-3.5A at 0°C</text>
<rect x="366" y="369.2" width="46" height="4.6" fill="#8f8f8f"/>
<text x="416" y="383.5" font-size="32" fill="#000" textLength="179" lengthAdjust="spacingAndGlyphs">-3.5A at 25°C</text>
<rect x="366" y="412.2" width="46" height="4.6" fill="#b3b3b3"/>
<text x="416" y="426.5" font-size="32" fill="#000" textLength="179.5" lengthAdjust="spacingAndGlyphs">-3.5A at 40°C</text>
<rect x="366" y="455" width="3" height="5" fill="#e8590c"/>
<rect x="373" y="455" width="4" height="5" fill="#e8590c"/>
<rect x="381" y="455" width="4" height="5" fill="#e8590c"/>
<rect x="389" y="455" width="4" height="5" fill="#e8590c"/>
<rect x="397" y="455" width="4" height="5" fill="#e8590c"/>
<rect x="405" y="455" width="4" height="5" fill="#e8590c"/>
<text x="416" y="469.5" font-size="32" fill="#000" textLength="262" lengthAdjust="spacingAndGlyphs">Batemo Cell Model</text>
</svg></body></html>
